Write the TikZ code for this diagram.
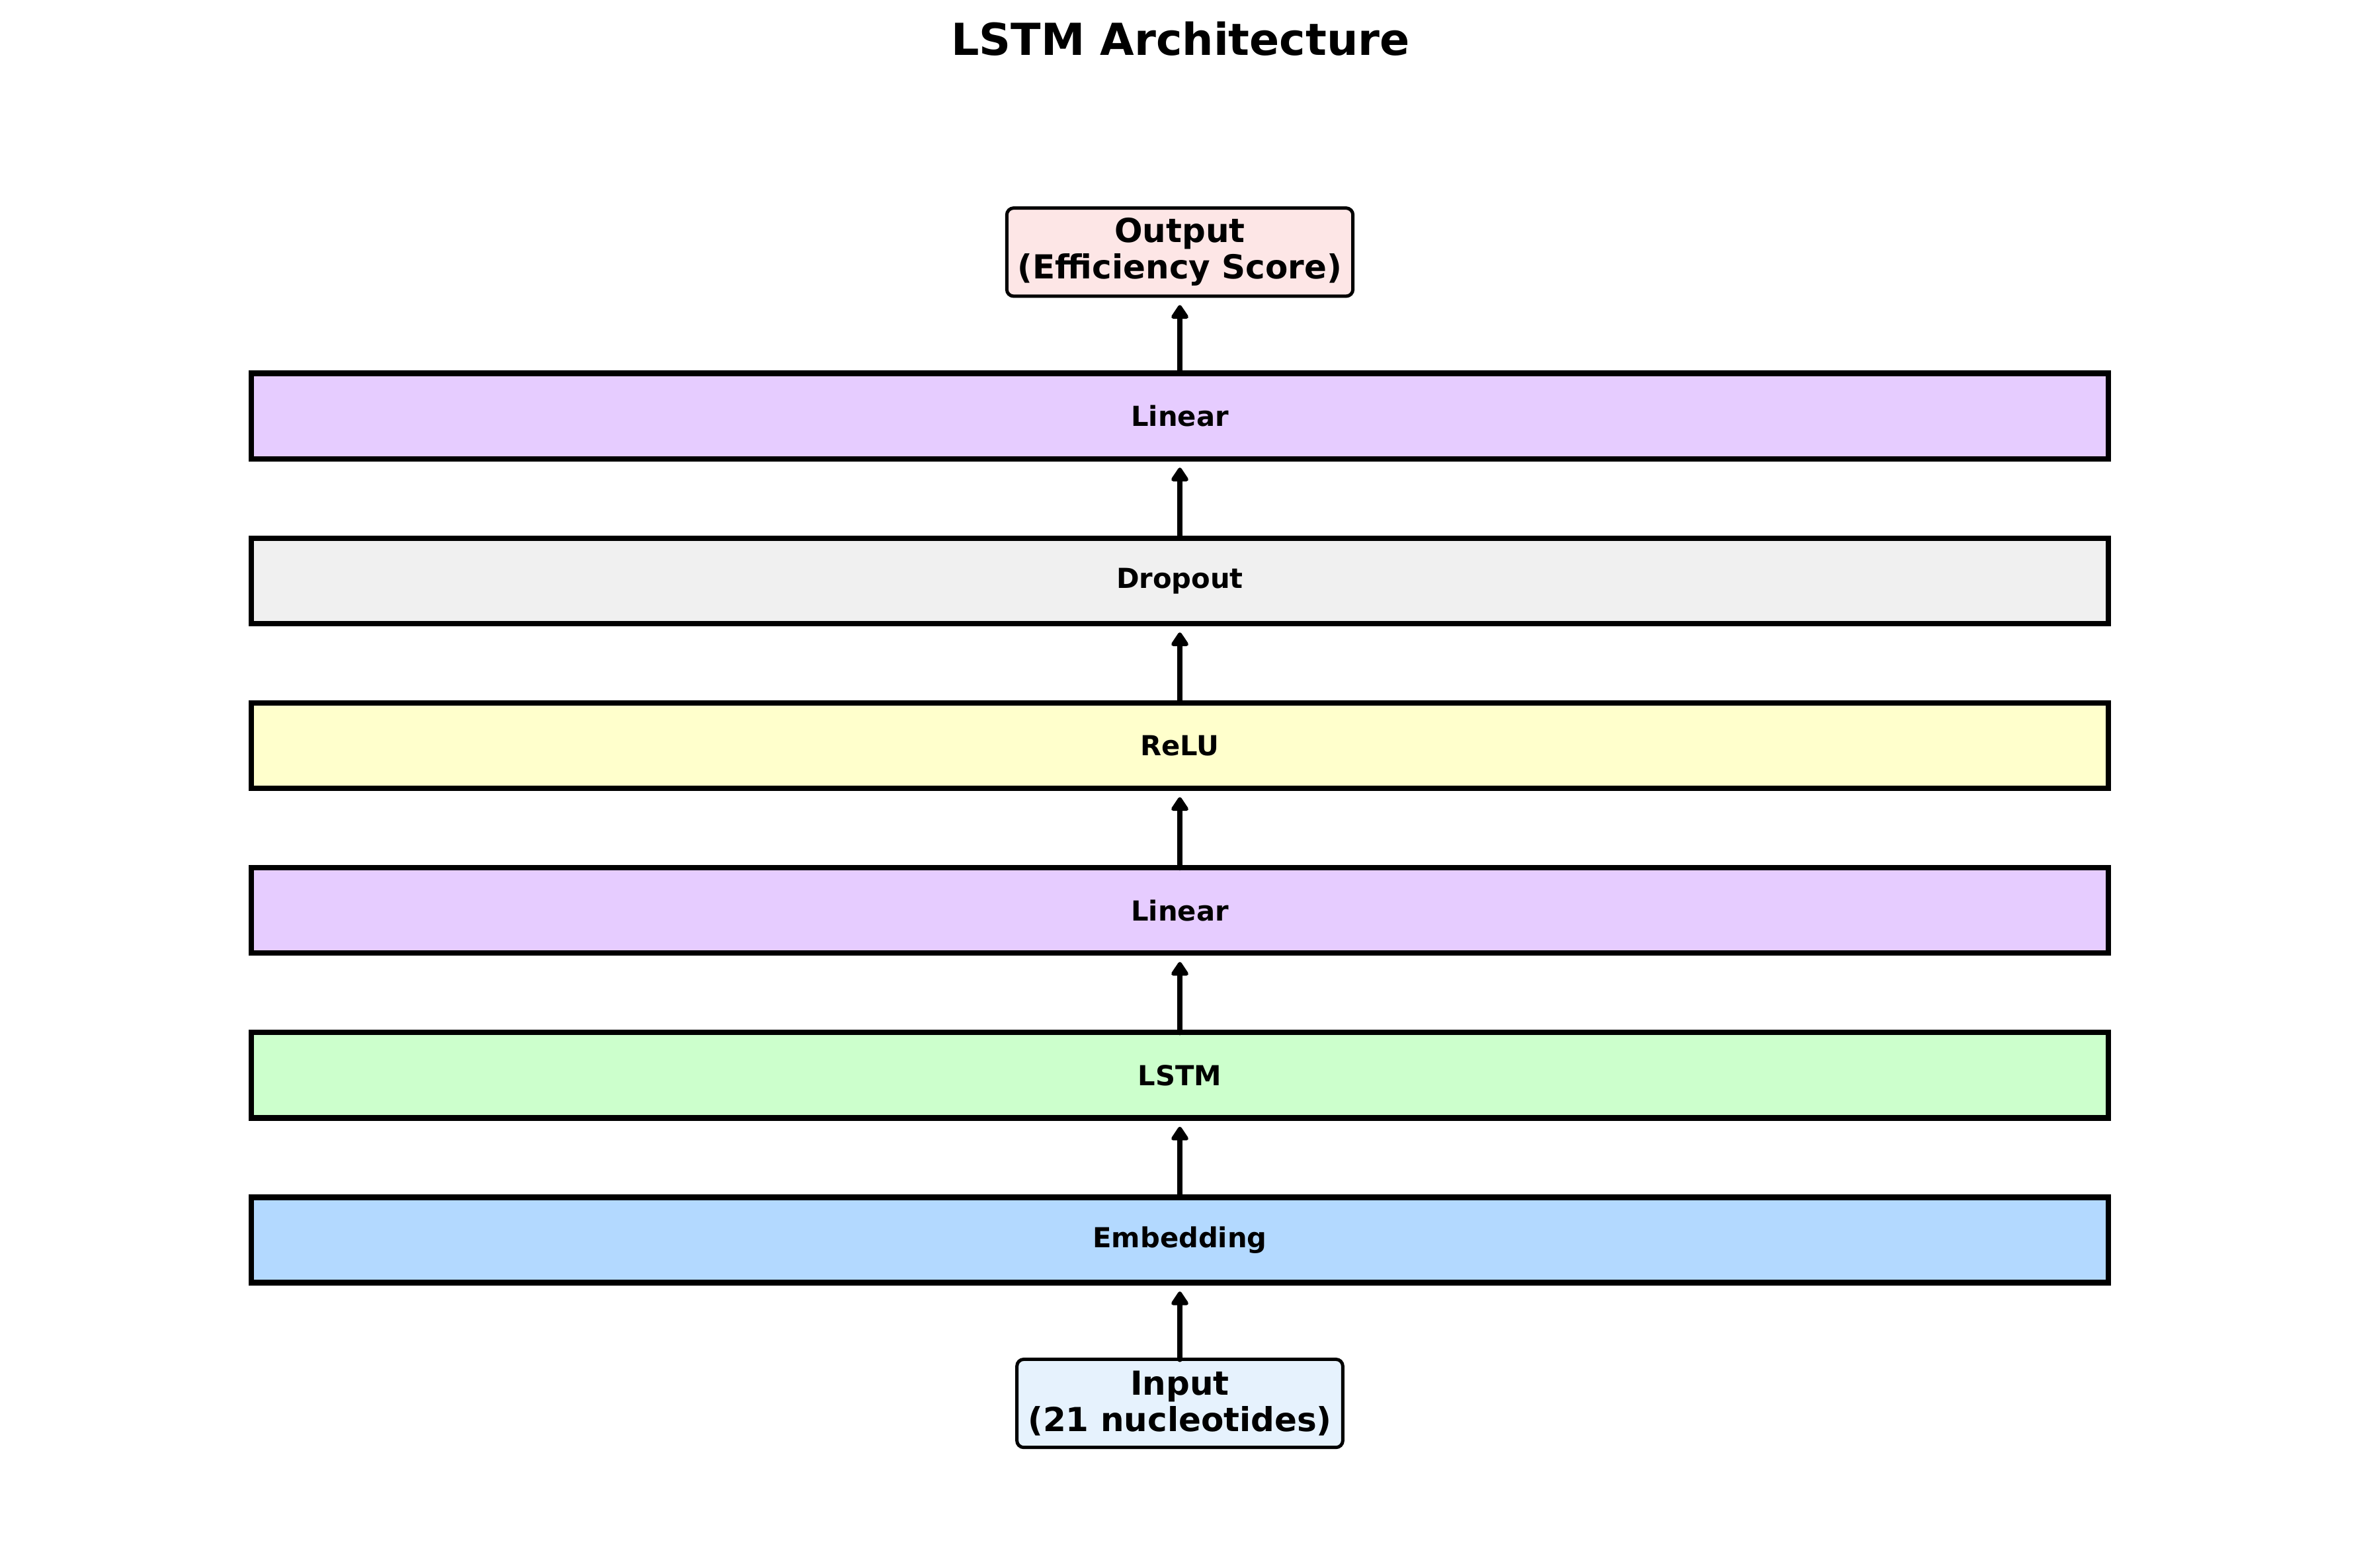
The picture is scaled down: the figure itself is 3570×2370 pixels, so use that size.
\documentclass[tikz,border=0pt]{standalone}
\usepackage{fontspec}
\setmainfont{DejaVu Sans}
\usepackage{tikz}
\usetikzlibrary{arrows.meta, positioning}
\definecolor{linfill}{HTML}{E6CCFF}
\definecolor{dropfill}{HTML}{F0F0F0}
\definecolor{relufill}{HTML}{FFFFCC}
\definecolor{lstmfill}{HTML}{CCFFCC}
\definecolor{embfill}{HTML}{B3D9FF}
\definecolor{infill}{HTML}{E6F2FD}
\definecolor{outfill}{HTML}{FDE6E6}

\begin{document}
\begin{tikzpicture}[x=0.24pt, y=0.24pt,
    layer/.style={draw=black, line width=2pt, minimum width=673.9pt, minimum height=31pt,
      inner sep=0pt, outer sep=0pt, font=\fontsize{10}{12}\selectfont\bfseries},
    endbox/.style={draw=black, line width=1.2pt, rounded corners=2.5pt, align=center,
      inner xsep=4pt, inner ysep=2pt, minimum height=32pt, outer sep=0pt,
      font=\fontsize{12}{13.2}\selectfont\bfseries},
    flow/.style={-{Triangle[length=5.6pt, width=7pt, round]}, line width=2pt, line cap=round, shorten >=3.2pt},
    node distance=28.8pt]
      \useasboundingbox (0,0) rectangle (3570,2370);
      \node[font=\fontsize{16}{19}\selectfont\bfseries] (title) at (1785,2311) {LSTM Architecture};
      \node[layer, fill=embfill] (emb) at (1784,495) {Embedding};
      \node[layer, fill=lstmfill, above=of emb] (lstm) {LSTM};
      \node[layer, fill=linfill, above=of lstm] (lin1) {Linear};
      \node[layer, fill=relufill, above=of lin1] (relu) {ReLU};
      \node[layer, fill=dropfill, above=of relu] (drop) {Dropout};
      \node[layer, fill=linfill, above=of drop] (lin2) {Linear};
      \node[endbox, fill=outfill, above=28pt of lin2] (out) {Output\\(Efficiency Score)};
      \node[endbox, fill=infill, below=27.8pt of emb] (in) {Input\\(21 nucleotides)};
      \foreach \a/\b in {in/emb, emb/lstm, lstm/lin1, lin1/relu, relu/drop, drop/lin2, lin2/out}{
        \draw[flow] (\a.north) -- (\b.south);
      }
    \end{tikzpicture}
\end{document}
